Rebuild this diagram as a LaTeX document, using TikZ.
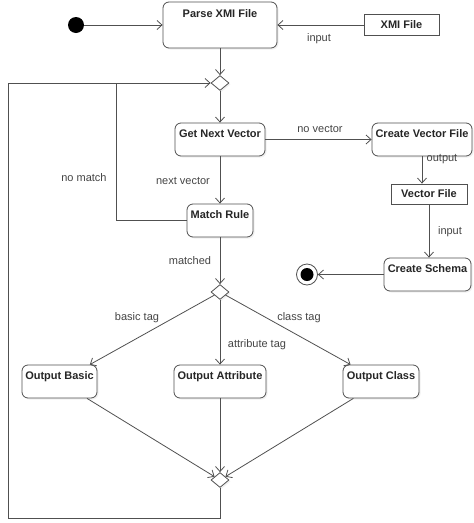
\documentclass[tikz,border=0pt]{standalone}
\usepackage{fontspec}
\setmainfont{Liberation Sans}
\usetikzlibrary{arrows.meta, shapes.geometric, shadows}
\definecolor{linegray}{HTML}{505050}
\definecolor{labelgray}{HTML}{444444}
\tikzset{
    act/.style={draw=linegray, fill=white, rounded corners=6pt, line width=0.8pt,
        inner sep=3pt, text height=11pt, text depth=16pt, text=black!85,
        font=\fontsize{11pt}{13pt}\selectfont\bfseries,
        drop shadow={shadow xshift=1.5pt, shadow yshift=-1.5pt, opacity=0.12}},
    obj/.style={draw=linegray, fill=white, line width=0.8pt, inner sep=0pt,
        text=black!85, font=\fontsize{11pt}{13pt}\selectfont\bfseries},
    dec/.style={diamond, draw=linegray, fill=white, line width=0.8pt, inner sep=0pt,
        minimum width=18pt, minimum height=15pt,
        drop shadow={shadow xshift=1.5pt, shadow yshift=-1.5pt, opacity=0.12}},
    lbl/.style={text=labelgray, font=\fontsize{11pt}{13pt}\selectfont},
    flow/.style={draw=linegray, line width=0.8pt}
}
\begin{document}
\begin{tikzpicture}[x=1pt, y=-1pt, >={Straight Barb[length=5pt, width=9pt]}]
    \useasboundingbox (0,0) rectangle (474,523);
    \node (start) at (76,25) [circle, fill=black, minimum size=16pt, inner sep=0pt]{};
    \node (parse) at (220,25) [act, minimum width=114pt, text height=12pt, text depth=28pt]{Parse XMI File};
    \node (xmi) at (401.5,25) [obj, minimum width=75pt, minimum height=21pt]{XMI File};
    \node (d1) at (220,83) [dec]{};
    \node (gnv) at (220,139.5) [act, minimum width=90pt]{Get Next Vector};
    \node (cvf) at (422,139.5) [act, minimum width=100pt]{Create Vector File};
    \node (vf) at (429,194) [obj, minimum width=76pt, minimum height=20pt]{Vector File};
    \node (cs) at (427.5,274.5) [act, minimum width=87pt]{Create Schema};
    \node (end) at (307,274.5) [circle, draw=linegray, line width=0.8pt, fill=white, minimum size=21pt, inner sep=0pt,
        path picture={\fill[black] (path picture bounding box.center) circle (6.5pt);}]{};
    \node (mr) at (220,220.5) [act, minimum width=66pt]{Match Rule};
    \node (d2) at (220,292) [dec]{};
    \node (ob) at (59.5,381.5) [act, minimum width=75pt]{Output Basic};
    \node (oa) at (220,381.5) [act, minimum width=92pt]{Output Attribute};
    \node (oc) at (381,381.5) [act, minimum width=76pt]{Output Class};
    \node (d3) at (220,480) [dec]{};
    \coordinate (corner) at (8,518);
    \coordinate (nomatch) at (116,83);

    \draw[flow, ->] (start) -- (parse);
    \draw[flow, ->] (xmi) -- (parse);
    \draw[flow, ->] (parse) -- (d1);
    \draw[flow, ->] (d1) -- (gnv);
    \draw[flow, ->] (gnv) -- (cvf);
    \draw[flow, ->] (cvf.south) -- (cvf.south |- vf.north);
    \draw[flow, ->] (vf.south) -- (vf.south |- cs.north);
    \draw[flow, ->] (cs) -- (end);
    \draw[flow, ->] (gnv) -- (mr);
    \draw[flow] (mr.west) -| (nomatch);
    \draw[flow, ->] (mr) -- (d2);
    \draw[flow, ->] (d2) -- (ob);
    \draw[flow, ->] (d2) -- (oa);
    \draw[flow, ->] (d2) -- (oc);
    \draw[flow, ->] (ob) -- (d3);
    \draw[flow, ->] (oa) -- (d3);
    \draw[flow, ->] (oc) -- (d3);
    \draw[flow, ->] (d3.south) |- (corner) |- (d1.west);

\node (linput) at (319,39) [lbl]{input};
\node (lnovec) at (320,129) [lbl]{no vector};
\node (loutput) at (442,159.5) [lbl]{output};
\node (lnext) at (183,181) [lbl]{next vector};
\node (lnomatch) at (84,177.5) [lbl]{no match};
\node (linput2) at (450,231.5) [lbl]{input};
\node (lmatched) at (190,260.5) [lbl]{matched};
\node (lbasic) at (137,318) [lbl]{basic tag};
\node (lattr) at (257,345) [lbl]{attribute tag};
\node (lclass) at (299,318) [lbl]{class tag};

\end{tikzpicture}
\end{document}
